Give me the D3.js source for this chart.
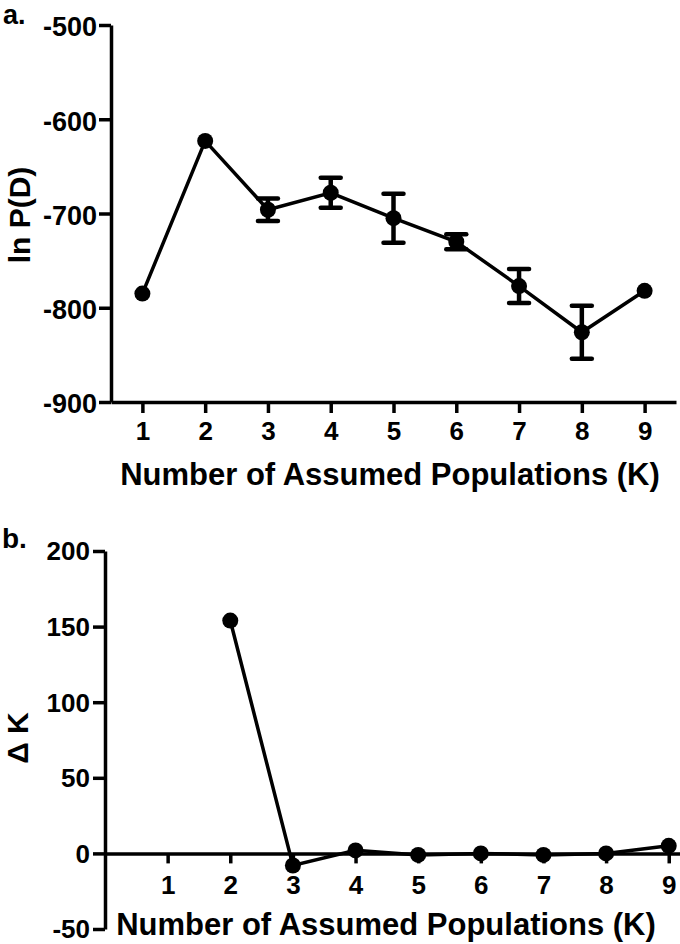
<!DOCTYPE html>
<html>
<head>
<meta charset="utf-8">
<script src="https://cdn.jsdelivr.net/npm/d3@7"></script>
<style>
  html, body { margin: 0; padding: 0; background: #fff; }
  svg text { font-family: "Liberation Sans", Arial, sans-serif; font-weight: bold; fill: #000; }
</style>
</head>
<body>
<svg id="chart" width="680" height="944"></svg>
<script>
// ---- data ----
const kValues = [1, 2, 3, 4, 5, 6, 7, 8, 9];
const lnPMean = [-785, -623, -696, -678, -705, -730, -777, -826, -782];
const lnPSd   = [0, 0, 12, 16, 26, 8, 18, 28, 0];
const deltaKValues = [2, 3, 4, 5, 6, 7, 8, 9];
const deltaK = [154, -8, 2, -1, 0, -1, 0, 5];
const xTickValues = [1, 2, 3, 4, 5, 6, 7, 8, 9];
const yTicksA = [-900, -800, -700, -600, -500];
const yTicksB = [-50, 0, 50, 100, 150, 200];
const xTitle = "Number of Assumed Populations (K)";

const svg = d3.select("#chart");
const black = "#000";
const fmt = d => String(d);   // plain hyphen-minus, as in the reference

function styleAxis(g, fontSize) {
  g.selectAll("path.domain").attr("stroke", black).attr("stroke-width", 3.5);
  g.selectAll(".tick line").attr("stroke", black).attr("stroke-width", 3.5);
  g.selectAll(".tick text").attr("font-size", fontSize + "px")
    .attr("font-family", "Liberation Sans, Arial, sans-serif")
    .attr("font-weight", "bold").attr("fill", black);
}

// ---------- Panel a ----------
const xA = d3.scaleLinear().domain([0.5, 9.5]).range([111, 676]);
const yA = d3.scaleLinear().domain([-900, -500]).range([402, 25]);

const gA = svg.append("g");
const xAxisA = gA.append("g").attr("transform", `translate(0,${yA(-900)})`)
  .call(d3.axisBottom(xA).tickValues(xTickValues).tickFormat(fmt)
    .tickSize(11).tickSizeOuter(0).tickPadding(9));
styleAxis(xAxisA, 26);
const yAxisA = gA.append("g").attr("transform", `translate(${xA(0.5)},0)`)
  .call(d3.axisLeft(yA).tickValues(yTicksA).tickFormat(fmt)
    .tickSize(12).tickSizeOuter(0).tickPadding(2));
styleAxis(yAxisA, 27);
yAxisA.selectAll(".tick text").attr("dy", "0.4em");

const dataA = kValues.map((k, i) => ({k, m: lnPMean[i], sd: lnPSd[i]}));
gA.append("path").datum(dataA)
  .attr("fill", "none").attr("stroke", black).attr("stroke-width", 3.5)
  .attr("d", d3.line().x(d => xA(d.k)).y(d => yA(d.m)));

const eb = gA.selectAll("g.eb").data(dataA.filter(d => d.sd > 0)).enter().append("g");
eb.append("line").attr("x1", d => xA(d.k)).attr("x2", d => xA(d.k))
  .attr("y1", d => yA(d.m - d.sd)).attr("y2", d => yA(d.m + d.sd))
  .attr("stroke", black).attr("stroke-width", 4.5);
eb.append("line").attr("x1", d => xA(d.k) - 10).attr("x2", d => xA(d.k) + 10)
  .attr("y1", d => yA(d.m + d.sd)).attr("y2", d => yA(d.m + d.sd))
  .attr("stroke", black).attr("stroke-width", 4.5).attr("stroke-linecap", "round");
eb.append("line").attr("x1", d => xA(d.k) - 10).attr("x2", d => xA(d.k) + 10)
  .attr("y1", d => yA(d.m - d.sd)).attr("y2", d => yA(d.m - d.sd))
  .attr("stroke", black).attr("stroke-width", 4.5).attr("stroke-linecap", "round");

gA.selectAll("circle").data(dataA).enter().append("circle")
  .attr("cx", d => xA(d.k)).attr("cy", d => yA(d.m)).attr("r", 8).attr("fill", black);

gA.append("text").attr("x", 3).attr("y", 24).attr("font-size", "27px").text("a.");
gA.append("text").attr("transform", "translate(30,215) rotate(-90)")
  .attr("text-anchor", "middle").attr("font-size", "30px").text("ln P(D)");
gA.append("text").attr("x", 390).attr("y", 485).attr("text-anchor", "middle")
  .attr("font-size", "31px").text(xTitle);

// ---------- Panel b ----------
const xB = d3.scaleLinear().domain([0, 9.18]).range([105, 680]);
const yB = d3.scaleLinear().domain([-50, 200]).range([929, 551]);

const gB = svg.append("g");
const yAxisB = gB.append("g").attr("transform", `translate(${xB(0)},0)`)
  .call(d3.axisLeft(yB).tickValues(yTicksB).tickFormat(fmt)
    .tickSize(12).tickSizeOuter(0).tickPadding(3));
styleAxis(yAxisB, 26);
yAxisB.selectAll(".tick text").attr("dy", "0.34em");

const xAxisB = gB.append("g").attr("transform", `translate(0,${yB(0)})`)
  .call(d3.axisBottom(xB).tickValues(xTickValues).tickFormat(fmt)
    .tickSize(10).tickSizeOuter(0).tickPadding(12));
styleAxis(xAxisB, 26);

const dataB = deltaKValues.map((k, i) => ({k, v: deltaK[i]}));
gB.append("path").datum(dataB)
  .attr("fill", "none").attr("stroke", black).attr("stroke-width", 3.5)
  .attr("d", d3.line().x(d => xB(d.k)).y(d => yB(d.v)));
gB.selectAll("circle").data(dataB).enter().append("circle")
  .attr("cx", d => xB(d.k)).attr("cy", d => yB(d.v)).attr("r", 8).attr("fill", black);

gB.append("text").attr("x", 2).attr("y", 548).attr("font-size", "28px").text("b.");
gB.append("text").attr("transform", "translate(28,738) rotate(-90)")
  .attr("text-anchor", "middle").attr("font-size", "30px").text("\u0394 K");
gB.append("text").attr("x", 386).attr("y", 935).attr("text-anchor", "middle")
  .attr("font-size", "31px").text(xTitle);
</script>
</body>
</html>
